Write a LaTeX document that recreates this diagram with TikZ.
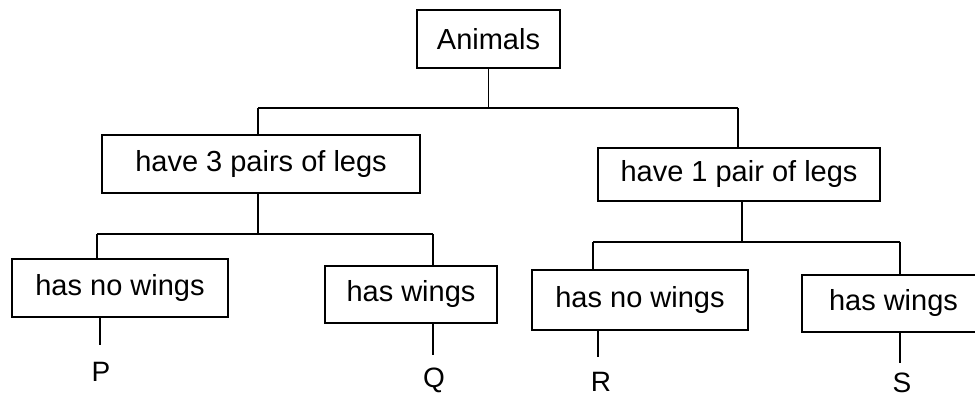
\documentclass[tikz,border=0pt]{standalone}
\usepackage{fontspec}
\setmainfont{Liberation Sans}
\begin{document}
\begin{tikzpicture}[x=1pt,y=-1pt,
  box/.style={draw, line width=1.5pt, rectangle, inner sep=0pt,
    font=\fontsize{29}{34}\selectfont},
  leaf/.style={inner sep=0pt, font=\fontsize{28}{32}\selectfont},
  link/.style={line width=1.5pt}]
\clip (0,0) rectangle (975,398);
\useasboundingbox (0,0) rectangle (975,398);
% boxes
\node[box, minimum width=143pt, minimum height=58pt] (animals) at (488.5,39) {Animals};
\node[box, minimum width=318pt, minimum height=58pt] (legs3) at (261,164) {have 3 pairs of legs};
\node[box, minimum width=282pt, minimum height=53pt] (legs1) at (739,174.5) {have 1 pair of legs};
\node[box, minimum width=216pt, minimum height=58pt] (nw1) at (120,288) {has no wings};
\node[box, minimum width=172pt, minimum height=57pt] (w1) at (411,294.5) {has wings};
\node[box, minimum width=216pt, minimum height=60pt] (nw2) at (640,300) {has no wings};
\node[box, minimum width=183pt, minimum height=57pt] (w2) at (893.5,303.5) {has wings};
% leaf labels
\node[leaf] (P) at (101,372) {P};
\node[leaf] (Q) at (434,380) {Q};
\node[leaf] (R) at (601,382) {R};
\node[leaf] (S) at (902,383) {S};
% junction coordinates
\coordinate (s0) at (488,108);
\coordinate (l0) at (258,108);
\coordinate (r0) at (738,108);
\coordinate (s1) at (258,234);
\coordinate (l1) at (97,234);
\coordinate (r1) at (433,234);
\coordinate (s2) at (742,242);
\coordinate (l2) at (593,242);
\coordinate (r2) at (900,242);
\coordinate (pe) at (100,345);
\coordinate (qe) at (433,355);
\coordinate (re) at (598,357);
\coordinate (se) at (900,363);
% connectors level 1
\draw[link] (animals.south) -- (animals.south |- s0);
\draw[link] (l0) -- (r0);
\draw[link] (l0) -- (l0 |- legs3.north);
\draw[link] (r0) -- (r0 |- legs1.north);
% level 2 left
\draw[link] (s1 |- legs3.south) -- (s1);
\draw[link] (l1) -- (r1);
\draw[link] (l1) -- (l1 |- nw1.north);
\draw[link] (r1) -- (r1 |- w1.north);
% level 2 right
\draw[link] (s2 |- legs1.south) -- (s2);
\draw[link] (l2) -- (r2);
\draw[link] (l2) -- (l2 |- nw2.north);
\draw[link] (r2) -- (r2 |- w2.north);
% leaves
\draw[link] (pe |- nw1.south) -- (pe);
\draw[link] (qe |- w1.south) -- (qe);
\draw[link] (re |- nw2.south) -- (re);
\draw[link] (se |- w2.south) -- (se);
\end{tikzpicture}
\end{document}
